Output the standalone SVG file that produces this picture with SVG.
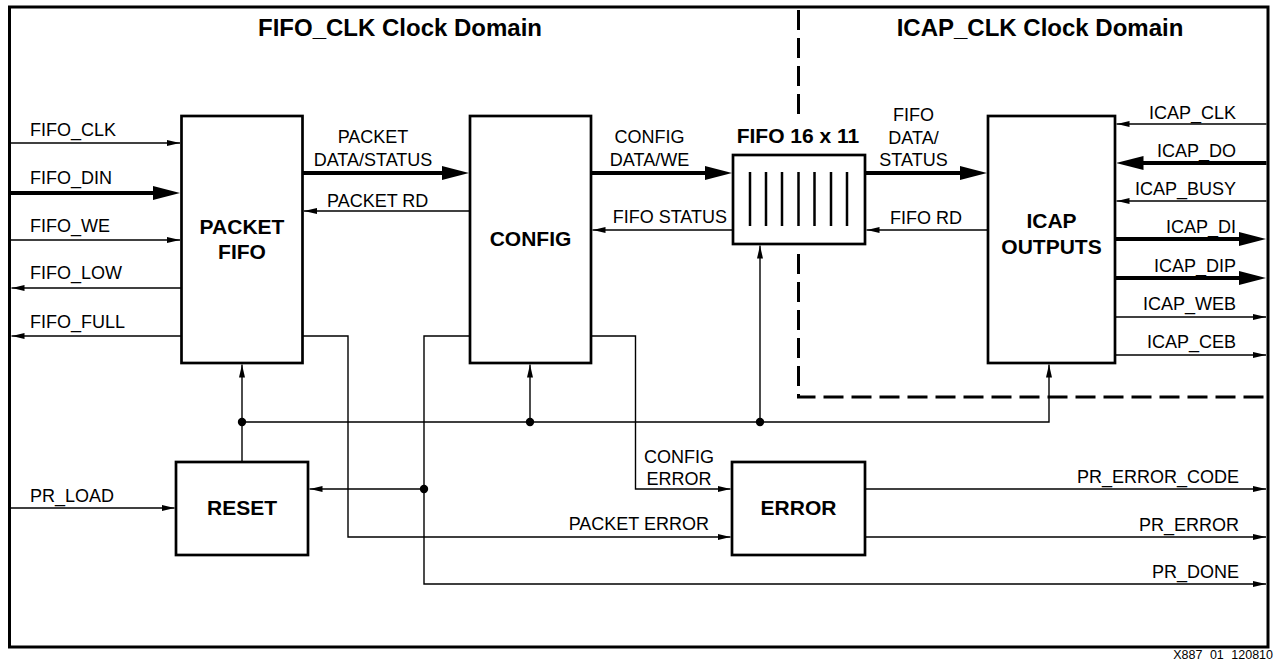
<svg xmlns="http://www.w3.org/2000/svg" width="1275" height="662" viewBox="0 0 1275 662">
<style>
text{font-family:"Liberation Sans",Arial,sans-serif;fill:#000}
.t{font-size:18px}
.b{font-size:21px;font-weight:bold}
.h{font-size:24px;font-weight:bold}
.box{fill:#fff;stroke:#000;stroke-width:2.7}
.w{fill:none;stroke:#000;stroke-width:1.4}
.k{fill:none;stroke:#000;stroke-width:4}
.dash{fill:none;stroke:#000;stroke-width:3;stroke-dasharray:20 8}
.bar{stroke:#000;stroke-width:2.5}
.ar{marker-end:url(#a)}
.AR{marker-end:url(#A)}
</style>
<defs>
<marker id="a" markerUnits="userSpaceOnUse" markerWidth="13" markerHeight="6" refX="13" refY="3" orient="auto"><path d="M0,0 L13,3 L0,6 z" fill="#000"/></marker>
<marker id="A" markerUnits="userSpaceOnUse" markerWidth="27" markerHeight="14" refX="3" refY="7" orient="auto"><path d="M0,0 L27,7 L0,14 z" fill="#000"/></marker>
</defs>
<rect id="frame" x="9.5" y="7" width="1258.5" height="640" fill="#fff" stroke="#000" stroke-width="3"/>
<path id="domain-boundary" class="dash" d="M798.5,10 V117 M798.5,254 V397 H1266"/>
<text class="h" x="400" y="36" text-anchor="middle">FIFO_CLK Clock Domain</text>
<text class="h" x="1040" y="36" text-anchor="middle">ICAP_CLK Clock Domain</text>
<g id="connectors">
<path class="w ar" d="M9.5,143 H180"/>
<path class="k AR" d="M9.5,193 H156"/>
<path class="w ar" d="M9.5,240 H180"/>
<path class="w ar" d="M181.5,288 H11.5"/>
<path class="w ar" d="M181.5,336 H11.5"/>
<path class="k AR" d="M302.5,173 H445"/>
<path class="w ar" d="M470,211 H304"/>
<path class="k AR" d="M591,173 H708"/>
<path class="w ar" d="M733,230 H592.5"/>
<path class="k AR" d="M865,173 H963"/>
<path class="w ar" d="M988,230 H866.5"/>
<path class="w ar" d="M1266.5,124 H1116.5"/>
<path class="k AR" d="M1266.5,163 H1140.5"/>
<path class="w ar" d="M1266.5,201 H1116.5"/>
<path class="k AR" d="M1115,239 H1242"/>
<path class="k AR" d="M1115,278 H1242"/>
<path class="w ar" d="M1115,317 H1266"/>
<path class="w ar" d="M1115,355 H1266"/>
<path class="w ar" d="M242,462 V364.5"/>
<path class="w ar" d="M242,422 H1049 V364.5"/>
<path class="w ar" d="M530,422 V364.5"/>
<path class="w ar" d="M760,422 V245.5"/>
<path class="w ar" d="M302.5,336 H348 V537 H730.5"/>
<path class="w ar" d="M470,336 H424 V584 H1266"/>
<path class="w ar" d="M424,489 H309.5"/>
<path class="w ar" d="M591,336 H635.5 V489 H730.5"/>
<path class="w ar" d="M865,489 H1266"/>
<path class="w ar" d="M865,537 H1266"/>
<path class="w ar" d="M9.5,508 H174.5"/>
<circle cx="242" cy="422" r="4.2"/>
<circle cx="530" cy="422" r="4.2"/>
<circle cx="760" cy="422" r="4.2"/>
<circle cx="424" cy="489" r="4.2"/>
<text class="t" x="30" y="136">FIFO_CLK</text>
<text class="t" x="30" y="184">FIFO_DIN</text>
<text class="t" x="30" y="231.5">FIFO_WE</text>
<text class="t" x="30" y="279">FIFO_LOW</text>
<text class="t" x="30" y="328">FIFO_FULL</text>
<text class="t" x="373" y="143" text-anchor="middle">PACKET</text>
<text class="t" x="373" y="165.5" text-anchor="middle">DATA/STATUS</text>
<text class="t" x="327" y="206.5">PACKET RD</text>
<text class="t" x="649.5" y="143" text-anchor="middle">CONFIG</text>
<text class="t" x="649.5" y="165.5" text-anchor="middle">DATA/WE</text>
<text class="t" x="727" y="223" text-anchor="end">FIFO STATUS</text>
<text class="t" x="913.5" y="121" text-anchor="middle">FIFO</text>
<text class="t" x="913.5" y="143.5" text-anchor="middle">DATA/</text>
<text class="t" x="913.5" y="166" text-anchor="middle">STATUS</text>
<text class="t" x="962" y="223.5" text-anchor="end">FIFO RD</text>
<text class="t" x="1236" y="118.5" text-anchor="end">ICAP_CLK</text>
<text class="t" x="1236" y="157" text-anchor="end">ICAP_DO</text>
<text class="t" x="1236" y="195" text-anchor="end">ICAP_BUSY</text>
<text class="t" x="1236" y="233" text-anchor="end">ICAP_DI</text>
<text class="t" x="1236" y="271.5" text-anchor="end">ICAP_DIP</text>
<text class="t" x="1236" y="309.5" text-anchor="end">ICAP_WEB</text>
<text class="t" x="1236" y="347.5" text-anchor="end">ICAP_CEB</text>
<text class="t" x="30" y="502">PR_LOAD</text>
<text class="t" x="679" y="463" text-anchor="middle">CONFIG</text>
<text class="t" x="679" y="485" text-anchor="middle">ERROR</text>
<text class="t" x="709" y="530" text-anchor="end">PACKET ERROR</text>
<text class="t" x="1239" y="483" text-anchor="end">PR_ERROR_CODE</text>
<text class="t" x="1239" y="530.5" text-anchor="end">PR_ERROR</text>
<text class="t" x="1239" y="578" text-anchor="end">PR_DONE</text>
</g>
<g id="packet-fifo">
<rect class="box" x="181.5" y="116" width="121" height="247"/>
<text class="b" x="242" y="233.5" text-anchor="middle">PACKET</text>
<text class="b" x="242" y="259" text-anchor="middle">FIFO</text>
</g>
<g id="config">
<rect class="box" x="470" y="116" width="121" height="247"/>
<text class="b" x="530.5" y="246" text-anchor="middle">CONFIG</text>
</g>
<g id="fifo-16x11">
<text class="b" x="798" y="143" text-anchor="middle">FIFO 16 x 11</text>
<rect class="box" x="733" y="155" width="132" height="89"/>
<path class="bar" d="M750,172 V226 M766,172 V226 M782,172 V226 M798.5,172 V226 M814.5,172 V226 M831,172 V226 M847,172 V226"/>
</g>
<g id="icap-outputs">
<rect class="box" x="988" y="116" width="127" height="247"/>
<text class="b" x="1051.5" y="228" text-anchor="middle">ICAP</text>
<text class="b" x="1051.5" y="253.5" text-anchor="middle">OUTPUTS</text>
</g>
<g id="reset">
<rect class="box" x="176" y="462" width="132" height="93"/>
<text class="b" x="242" y="515" text-anchor="middle">RESET</text>
</g>
<g id="error">
<rect class="box" x="732" y="462" width="133" height="93"/>
<text class="b" x="798.5" y="515" text-anchor="middle">ERROR</text>
</g>
<text x="1273" y="659" text-anchor="end" font-size="12.5" word-spacing="4">X887 01 120810</text>
</svg>
